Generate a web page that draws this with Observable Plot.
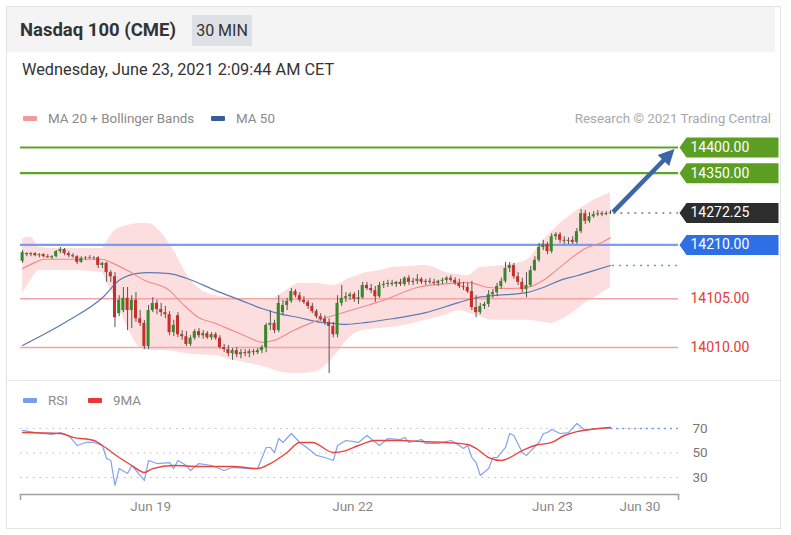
<!DOCTYPE html>
<html>
<head>
<meta charset="utf-8">
<script src="https://cdn.jsdelivr.net/npm/d3@7"></script>
<script src="https://cdn.jsdelivr.net/npm/@observablehq/plot@0.6"></script>
<style>
  html, body { margin: 0; padding: 0; background: #fff; }
  body { font-family: Roboto, "Noto Sans", sans-serif; }
  #wrap { position: relative; width: 791px; height: 535px; overflow: hidden; }
  .abs { position: absolute; }
  #frame { left: 6px; top: 6px; width: 775px; height: 523px; border: 1px solid #e3e3e3; box-sizing: border-box; }
  #header { left: 7px; top: 7px; width: 768px; height: 45px; background: #f4f4f4; }
  #title { left: 20px; top: 19px; font-size: 18.5px; font-weight: bold; color: #333; line-height: 22px; }
  #tf { left: 192px; top: 15px; width: 60px; height: 31px; background: #dde0e4; color: #333; font-size: 16px; line-height: 31px; text-align: center; }
  #date { left: 22px; top: 61px; font-size: 16.3px; color: #333; line-height: 18px; }
  .leg { font-size: 13.4px; color: #8a8a8a; line-height: 16px; }
  .sw { display: inline-block; width: 14px; height: 5px; border-radius: 1px; vertical-align: middle; margin-right: 11px; position: relative; top: -1px; }
  #sep { left: 7px; top: 380px; width: 774px; height: 1px; background: #e8e8e8; }
</style>
</head>
<body>
<div id="wrap">
  <div id="frame" class="abs"></div>
  <div id="header" class="abs"></div>
  <div id="title" class="abs">Nasdaq 100 (CME)</div>
  <div id="tf" class="abs">30 MIN</div>
  <div id="date" class="abs">Wednesday, June 23, 2021 2:09:44 AM CET</div>
  <div class="abs leg" style="left:23px;top:111px;"><span class="sw" style="background:#f29a9a"></span>MA 20 + Bollinger Bands</div>
  <div class="abs leg" style="left:211px;top:111px;"><span class="sw" style="background:#3a5c9c"></span>MA 50</div>
  <div class="abs leg" style="right:20px;top:111px;color:#a8a8a8;">Research © 2021 Trading Central</div>
  <div id="main" class="abs" style="left:0;top:130px;"></div>
  <div id="sep" class="abs"></div>
  <div class="abs leg" style="left:23px;top:393px;"><span class="sw" style="background:#7b9bf0"></span>RSI</div>
  <div class="abs leg" style="left:88px;top:393px;"><span class="sw" style="background:#e53935"></span>9MA</div>
  <div id="rsi" class="abs" style="left:0;top:415px;"></div>
</div>
<script>
// ---------- Data ----------
const open = [14178,14193,14191,14193,14189,14191,14187,14185,14187,14197,
14201,14193,14189,14187,14176,14184,14185,14184,14185,14170,
14174,14156,14148,14076,14082,14106,14082,14102,14066,14057,
14012,14082,14096,14084,14078,14074,14039,14072,14035,14031,
14016,14028,14041,14033,14037,14029,14035,14028,14010,14006,
13998,14004,13996,14000,13998,14002,14000,14004,14010,14053,
14057,14043,14078,14092,14100,14119,14111,14102,14098,14090,
14080,14070,14065,14059,14051,14035,14096,14106,14109,14113,
14104,14107,14131,14125,14121,14109,14131,14133,14135,14133,
14137,14133,14145,14137,14139,14143,14137,14139,14137,14135,
14139,14141,14145,14141,14135,14129,14127,14119,14088,14078,
14090,14094,14113,14117,14129,14139,14164,14170,14148,14137,
14123,14131,14160,14180,14205,14211,14197,14226,14230,14219,
14217,14219,14215,14236,14271,14256,14265,14269,14271,14269,14271];
const high = [14199,14195,14195,14195,14193,14193,14191,14189,14199,14205,
14203,14197,14193,14189,14187,14187,14189,14187,14187,14176,
14176,14160,14156,14111,14127,14127,14111,14117,14082,14063,
14092,14107,14102,14096,14090,14080,14063,14078,14043,14041,
14033,14045,14047,14043,14041,14039,14039,14033,14016,14014,
14008,14010,14006,14006,14006,14006,14008,14014,14057,14082,
14063,14111,14102,14106,14125,14123,14117,14109,14102,14096,
14084,14076,14072,14066,14059,14111,14131,14117,14117,14117,
14121,14137,14137,14133,14129,14137,14139,14141,14141,14139,
14143,14148,14150,14145,14152,14146,14143,14145,14143,14141,
14145,14148,14150,14146,14143,14137,14135,14139,14111,14096,
14098,14121,14123,14135,14145,14176,14176,14174,14156,14145,
14156,14168,14187,14213,14219,14215,14232,14234,14234,14226,
14224,14226,14242,14279,14277,14273,14275,14277,14275,14275,14277];
const low = [14174,14187,14187,14187,14185,14185,14184,14182,14185,14193,
14189,14185,14184,14172,14174,14180,14182,14180,14164,14164,
14137,14137,14049,14070,14078,14043,14047,14059,14051,14006,
14006,14078,14074,14070,14066,14033,14031,14029,14024,14012,
14012,14024,14028,14026,14026,14024,14024,14006,14000,13992,
13985,13990,13988,13992,13990,13994,13996,13998,14000,14043,
14037,14039,14072,14082,14096,14107,14098,14094,14084,14076,
14066,14061,14053,13959,14029,14029,14090,14098,14102,14098,
14094,14104,14121,14115,14098,14106,14125,14127,14129,14127,
14129,14129,14131,14131,14133,14133,14131,14133,14131,14129,
14133,14135,14137,14131,14125,14121,14115,14082,14068,14074,
14084,14088,14106,14109,14123,14135,14156,14143,14131,14117,
14107,14127,14158,14176,14199,14191,14193,14219,14213,14211,
14211,14211,14211,14232,14250,14252,14262,14265,14265,14267,14269];
const close = [14195,14191,14193,14189,14191,14187,14185,14187,14197,14201,
14193,14189,14187,14176,14184,14185,14184,14185,14170,14174,
14156,14148,14068,14102,14106,14082,14102,14066,14057,14012,
14082,14096,14084,14078,14074,14039,14053,14035,14031,14016,
14028,14041,14033,14037,14029,14035,14028,14010,14006,13998,
14004,13996,14000,13998,14002,14000,14004,14010,14053,14057,
14043,14096,14092,14100,14119,14111,14102,14098,14090,14080,
14070,14065,14059,14051,14035,14096,14106,14109,14113,14104,
14107,14131,14125,14121,14109,14131,14133,14135,14133,14137,
14133,14145,14137,14139,14143,14137,14139,14137,14135,14139,
14141,14145,14141,14135,14129,14127,14119,14088,14078,14090,
14094,14113,14117,14129,14139,14164,14170,14148,14137,14123,
14131,14160,14180,14205,14211,14197,14226,14230,14219,14217,
14219,14215,14236,14271,14256,14265,14269,14271,14269,14271,14272.25];

// Bollinger bands (sampled at candle indices)
const bandIdx =   [0,2,4,8,12,16,19,20,22,25,28,30,33,36,39,42,46,50,54,58,62,66,70,74,78,81,85,88,92,96,101,104,106,109,112,116,120,124,126,128,130,132,135,136,138,140];
const bandUpper = [14223,14225,14205,14203,14203,14203,14203,14215,14238,14248,14252,14252,14234,14199,14154,14125,14111,14107,14102,14102,14117,14135,14135,14131,14145,14154,14160,14166,14168,14170,14156,14152,14150,14166,14168,14172,14180,14219,14236,14252,14265,14277,14292,14297,14305,14312];
const bandLower = [14115,14141,14160,14160,14160,14158,14156,14137,14107,14049,14010,14004,14004,14002,13998,13996,13994,13985,13979,13971,13961,13959,13963,13990,14030,14043,14047,14049,14055,14063,14074,14082,14078,14070,14063,14063,14063,14059,14057,14063,14072,14084,14102,14106,14117,14127];

// MA 20
const ma20Idx = [0,3,5,19,21,25,29,35,38,42,46,50,54,57,60,64,69,73,78,86,94,102,106,111,116,120,124,127,130,134,138,140];
const ma20Val = [14164,14176,14182,14182,14176,14160,14141,14121,14096,14068,14057,14043,14029,14020,14024,14041,14059,14070,14082,14102,14127,14135,14137,14127,14125,14127,14141,14160,14180,14203,14215,14224];

// MA 50
const ma50Idx = [0,11,19,23,27,30,35,39,46,52,57,61,66,71,74,77,82,88,96,104,108,112,120,124,128,132,136,140];
const ma50Val = [14014,14063,14107,14141,14154,14156,14154,14145,14121,14102,14086,14076,14068,14059,14057,14055,14059,14066,14078,14098,14107,14111,14117,14127,14141,14150,14160,14170];

// Levels
const levelValues = [14400, 14350, 14210, 14105, 14010];
const levelKinds  = ["resistance", "resistance", "pivot", "support", "support"];
const lastPrice = 14272.25;
const targetArrowFrom = [140.6, 14274];
const targetArrowTo   = [153.6, 14383];

// RSI
const rsiIdx = [0,3,7,9,11,13,15,17,19,20,21,22,23,25,26,29,30,32,35,36,37,39,40,42,45,48,50,54,56,58,59,60,61,62,64,66,68,70,72,74,75,77,80,82,85,87,90,91,92,95,96,99,102,104,105,106,107,108,109,111,112,113,115,116,117,119,120,123,124,125,126,128,130,132,134,137,140];
const rsiVal = [68.4,66.7,65.1,66.7,64.3,56.1,58.6,58.6,56.1,45.5,43.9,23.5,37.3,33.3,39.8,27.6,43.9,41.4,42.2,37.3,43.9,39.8,35.7,41.4,39.8,35.7,38.2,37.3,37.3,54.5,54.5,50.4,61.8,58.6,65.9,58.6,53.7,48.0,46.3,43.9,56.1,60.2,58.6,64.3,56.1,61.8,61.0,62.7,58.6,61.0,57.8,57.8,60.2,56.1,53.7,56.1,46.3,42.2,31.6,37.3,46.3,46.3,54.5,65.9,64.3,50.4,48.0,58.6,65.9,66.7,69.2,65.9,66.7,74.1,68.4,70.0,70.0];
const rsiMaIdx = [0,9,12,17,19,23,26,29,31,36,42,50,56,59,63,66,69,74,77,80,84,90,95,104,106,108,111,114,115,119,122,126,129,132,135,140];
const rsiMaVal = [66.7,65.9,62.7,60.2,56.1,46.3,39.8,34.1,37.3,39.8,39.0,39.0,37.3,41.4,50.4,58.6,58.6,50.4,52.0,56.1,60.2,60.2,59.4,57.8,56.9,53.7,46.3,43.9,44.7,52.0,56.1,58.6,64.3,67.5,69.2,70.8];
const rsiLevels = [70, 50, 30];

// Time axis (candle index where each date label sits)
const dateTickIdx = [30.5, 78.6, 126.2, 147];
const dateTickLabels = ["Jun 19", "Jun 22", "Jun 23", "Jun 30"];

// ---------- Build ----------
const xDomain = [-0.5, 156.2];
const candles = close.map((c, i) => ({i, o: open[i], h: high[i], l: low[i], c}));
const lastIdx = candles.length - 1;
const band = bandIdx.map((i, k) => ({i, up: bandUpper[k], lo: bandLower[k]}));
const ma20 = ma20Idx.map((i, k) => ({i, v: ma20Val[k]}));
const ma50 = ma50Idx.map((i, k) => ({i, v: ma50Val[k]}));
const rsi = rsiIdx.map((i, k) => ({i, v: rsiVal[k]}));
const rsiMa = rsiMaIdx.map((i, k) => ({i, v: rsiMaVal[k]}));

const levelStyle = {
  resistance: {stroke: "#62a12b", width: 2.2, tag: "#5c9e22", text: "#ffffff"},
  pivot: {stroke: "#7b9cf5", width: 2.2, tag: "#2e6fe6", text: "#ffffff"},
  support: {stroke: "#f5a3a3", width: 1.6, tag: null, text: "#e53935"}
};
const levels = levelValues.map((v, k) => ({v, ...levelStyle[levelKinds[k]]}));
const tags = [
  ...levels.filter(d => d.tag).map(d => ({v: d.v, fill: d.tag, text: d.text})),
  {v: lastPrice, fill: "#2d2d2d", text: "#ffffff"}
];
const labels = [
  ...levels.map(d => ({v: d.v, text: d.text})),
  {v: lastPrice, text: "#ffffff"}
];

const tagShape = {
  draw(ctx) {
    ctx.moveTo(0, 0);
    ctx.lineTo(7, -10);
    ctx.lineTo(99, -10);
    ctx.lineTo(99, 10);
    ctx.lineTo(7, 10);
    ctx.closePath();
  }
};
const headShape = {
  draw(ctx) {
    ctx.moveTo(0, -10);
    ctx.lineTo(8, 6);
    ctx.lineTo(-8, 6);
    ctx.closePath();
  }
};

const W = 785, ML = 20, MR = 107;
const arrowColor = "#3b67a6";

const main = Plot.plot({
  width: W, height: 250,
  marginLeft: ML, marginRight: MR, marginTop: 0, marginBottom: 0,
  x: {domain: xDomain, axis: null},
  y: {domain: [14010, 14400], range: [217, 17], axis: null},
  color: {type: "identity"},
  style: {fontFamily: "Roboto, sans-serif", overflow: "visible"},
  marks: [
    Plot.areaY(band, {x: "i", y1: "lo", y2: "up", fill: "#fddede", curve: "monotone-x"}),
    Plot.ruleY(levels, {y: "v", stroke: "stroke", strokeWidth: "width"}),
    Plot.lineY(ma50, {x: "i", y: "v", stroke: "#5b7bb5", strokeWidth: 1.2, curve: "monotone-x"}),
    Plot.lineY(ma20, {x: "i", y: "v", stroke: "#f08a8a", strokeWidth: 1.1, curve: "monotone-x"}),
    Plot.ruleY([ma50Val[ma50Val.length - 1]], {x1: lastIdx + 0.5, x2: xDomain[1], stroke: "#7391cf", strokeWidth: 1.5, strokeDasharray: "2,5"}),
    Plot.ruleY([lastPrice], {x1: lastIdx + 0.8, x2: xDomain[1], stroke: "#777", strokeWidth: 1.3, strokeDasharray: "2,5"}),
    Plot.ruleX(candles, {x: "i", y1: "l", y2: "h", stroke: "#555", strokeWidth: 1}),
    Plot.rect(candles, {x1: d => d.i - 0.36, x2: d => d.i + 0.36, y1: "o", y2: d => (Math.abs(d.c - d.o) < 1 ? d.o + 1 : d.c),
      fill: d => d.c >= d.o ? "#38872a" : "#c62f2a"}),
    Plot.link([{x1: targetArrowFrom[0], y1: targetArrowFrom[1], x2: targetArrowTo[0], y2: targetArrowTo[1]}],
      {x1: "x1", y1: "y1", x2: "x2", y2: "y2", stroke: arrowColor, strokeWidth: 4.5}),
    Plot.dot([{x: targetArrowTo[0], y: targetArrowTo[1]}], {x: "x", y: "y", symbol: headShape, fill: arrowColor, stroke: null, rotate: 44, r: 10}),
    Plot.dot(tags, {y: "v", frameAnchor: "right", dx: 1, symbol: tagShape, fill: "fill", stroke: null, r: 10}),
    Plot.text(labels, {y: "v", frameAnchor: "right", dx: 12, textAnchor: "start", text: d => d.v.toFixed(2), fill: "text", fontSize: 14})
  ]
});
document.getElementById("main").appendChild(main);

const rsiPlot = Plot.plot({
  width: W, height: 110,
  marginLeft: ML, marginRight: MR, marginTop: 0, marginBottom: 31,
  x: {domain: xDomain, axis: null, label: null},
  y: {domain: [30, 70], range: [62, 13], axis: null},
  style: {fontFamily: "Roboto, sans-serif", overflow: "visible"},
  marks: [
    Plot.ruleY(rsiLevels, {stroke: "#bdbdbd", strokeWidth: 1, strokeDasharray: "1.5,5"}),
    Plot.ruleY([70], {x1: lastIdx, x2: xDomain[1], stroke: "#7b9cf0", strokeWidth: 1.5, strokeDasharray: "2,4"}),
    Plot.lineY(rsi, {x: "i", y: "v", stroke: "#86a2f0", strokeWidth: 1.2}),
    Plot.lineY(rsiMa, {x: "i", y: "v", stroke: "#e8453c", strokeWidth: 1.4, curve: "monotone-x"}),
    Plot.text(rsiLevels, {y: d => d, text: d => String(d), frameAnchor: "right", dx: 14, textAnchor: "start", fill: "#777", fontSize: 13.5}),
    Plot.frame({anchor: "bottom", stroke: "#a0a0a0", strokeWidth: 1.5}),
    Plot.axisX({ticks: xDomain, tickFormat: () => "", tickSize: 6, stroke: "#a0a0a0", strokeWidth: 1.5, label: null}),
    Plot.text(dateTickIdx, {x: d => d, text: d => dateTickLabels[dateTickIdx.indexOf(d)], frameAnchor: "bottom", dy: 16, fill: "#8a8a8a", fontSize: 13.5})
  ]
});
document.getElementById("rsi").appendChild(rsiPlot);
</script>
</body>
</html>
